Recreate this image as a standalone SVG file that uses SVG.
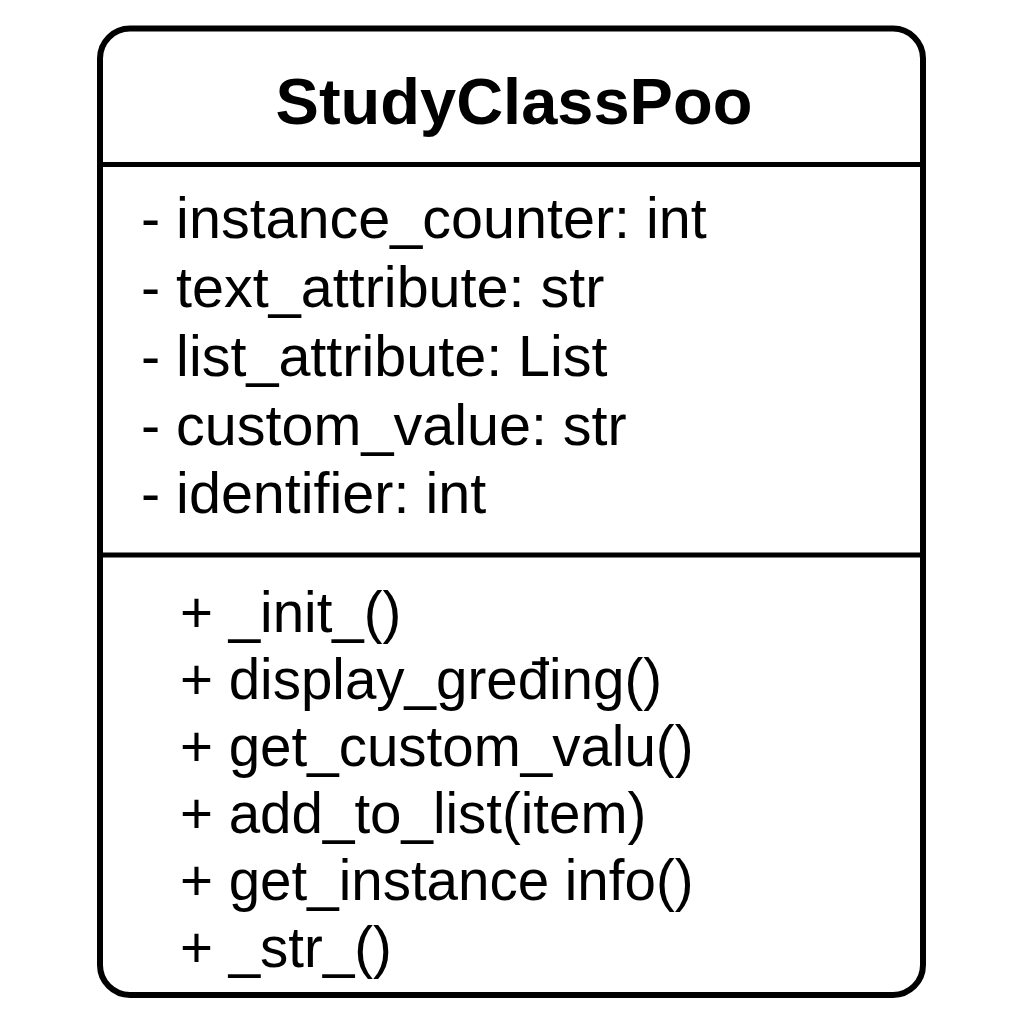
<svg xmlns="http://www.w3.org/2000/svg" width="1024" height="1024" viewBox="0 0 1024 1024">
<style>
.box{fill:#fff;stroke:#000;stroke-width:6}
.div{stroke:#000;stroke-width:5}
.title{font-family:"Liberation Sans",Arial,sans-serif;font-weight:bold;font-size:65px;fill:#000;text-anchor:middle}
.t{font-family:"Liberation Sans",Arial,sans-serif;font-size:57.5px;fill:#000}
.m{font-family:"Liberation Sans",Arial,sans-serif;font-size:56.5px;fill:#000}
</style>
<rect width="1024" height="1024" fill="#fff"/>
<g id="StudyClassPoo">
<rect class="box" x="100" y="28.5" width="823" height="966.5" rx="30" ry="30"/>
<line class="div" x1="100" y1="164.5" x2="923" y2="164.5"/>
<line class="div" x1="100" y1="555" x2="923" y2="555"/>
<text class="title" x="514" y="124">StudyClassPoo</text>
<text class="t" x="141" y="238">- instance_counter: int</text>
<text class="t" x="141" y="307">- text_attribute: str</text>
<text class="t" x="141" y="376">- list_attribute: List</text>
<text class="t" x="141" y="445">- custom_value: str</text>
<text class="t" x="141" y="513">- identifier: int</text>
<text class="m" x="180" y="632">+ _init_()</text>
<text class="m" x="180" y="699">+ display_gređing()</text>
<text class="m" x="180" y="766">+ get_custom_valu()</text>
<text class="m" x="180" y="833">+ add_to_list(item)</text>
<text class="m" x="180" y="900">+ get_instance info()</text>
<text class="m" x="180" y="967">+ _str_()</text>
</g>
<g id="connectors"/>
</svg>
